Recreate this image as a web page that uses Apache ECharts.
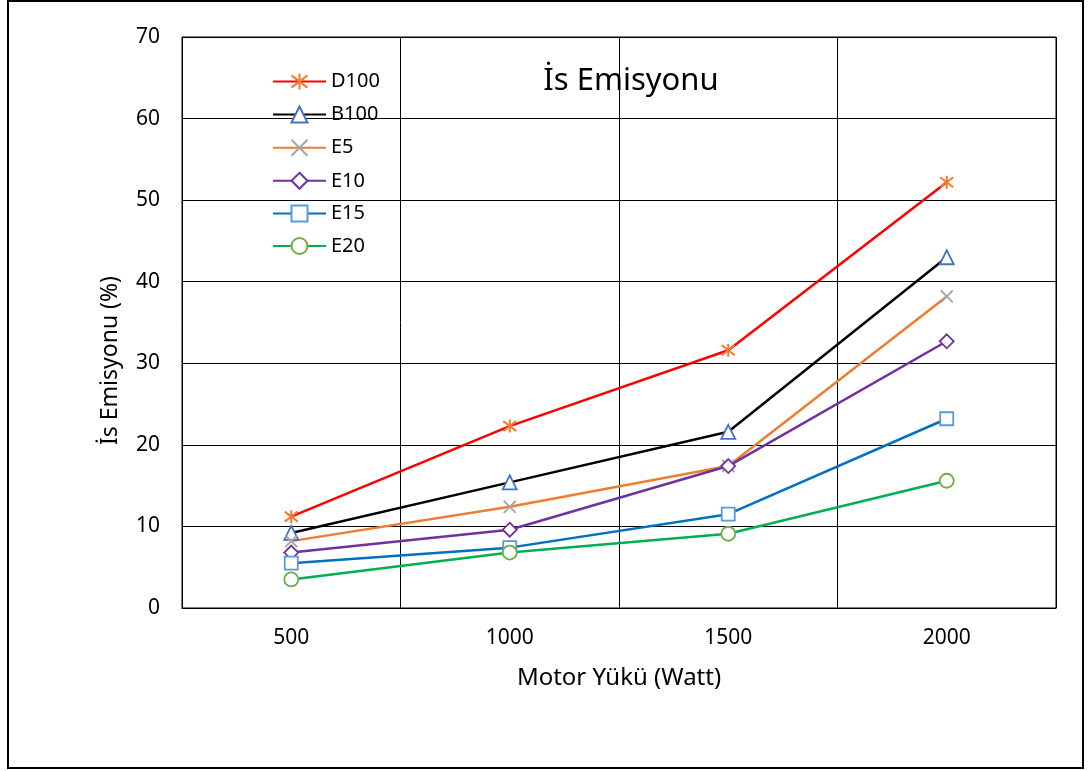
<!DOCTYPE html>
<html>
<head>
<meta charset="utf-8">
<script src="https://cdn.jsdelivr.net/npm/echarts@6/dist/echarts.min.js"></script>
<style>
html,body{margin:0;padding:0;background:#fff;}
#chart{width:1088px;height:771px;}
</style>
</head>
<body>
<div id="chart"></div>
<script>
// Motor load categories (Watt)
const loads = ['500', '1000', '1500', '2000'];
// Smoke emission (%) per fuel blend
const d100 = [11.2, 22.3, 31.6, 52.2];
const b100 = [9.2, 15.4, 21.6, 43.0];
const e5 = [8.2, 12.4, 17.4, 38.2];
const e10 = [6.8, 9.6, 17.4, 32.7];
const e15 = [5.5, 7.4, 11.5, 23.2];
const e20 = [3.5, 6.8, 9.1, 15.6];
const yTicks = [0, 10, 20, 30, 40, 50, 60, 70];

const FONT = 'Noto Sans';
const XMARK = 'path://M0,0L10,10M10,0L0,10';
const STAR = 'path://M0,0L10,10M10,0L0,10M5,-1.5L5,11.5';

function mk(name, data, lineColor, markColor, symbol, size, hollowCross) {
  return {
    name: name,
    type: 'line',
    data: data,
    symbol: symbol,
    symbolSize: size,
    showAllSymbol: true,
    lineStyle: { color: lineColor, width: 2.5 },
    itemStyle: hollowCross
      ? { color: 'none', borderColor: markColor, borderWidth: 2 }
      : { color: '#fff', borderColor: markColor, borderWidth: 1.8 },
    z: 3
  };
}

const series = [
  mk('D100', d100, '#FF0000', '#ED7D31', STAR, 13, true),
  mk('B100', b100, '#000000', '#4472C4', 'triangle', 14),
  mk('E5', e5, '#ED7D31', '#A5A5A5', XMARK, 12, true),
  mk('E10', e10, '#7030A0', '#7030A0', 'diamond', 14),
  mk('E15', e15, '#0070C0', '#5B9BD5', 'rect', 13),
  mk('E20', e20, '#00B050', '#70AD47', 'circle', 14)
];

const chart = echarts.init(document.getElementById('chart'));
chart.setOption({
  animation: false,
  backgroundColor: '#fff',
  textStyle: { fontFamily: FONT },
  title: {
    text: 'İs Emisyonu',
    left: 626,
    top: 61,
    textAlign: 'center',
    textStyle: { fontFamily: FONT, fontSize: 31, fontWeight: 'normal', color: '#000' }
  },
  legend: {
    orient: 'vertical',
    left: 272,
    top: 71,
    padding: 0,
    itemWidth: 53,
    itemHeight: 20,
    itemGap: 12.6,
    textStyle: { fontFamily: FONT, fontSize: 20, lineHeight: 20, color: '#000', padding: [0, 0, 0, 0] },
    data: series.map(s => s.name)
  },
  grid: { left: 182, top: 37, width: 874, height: 571, containLabel: false,
          show: true, borderColor: '#000', borderWidth: 1 },
  xAxis: {
    type: 'category',
    data: loads,
    boundaryGap: true,
    name: 'Motor Yükü (Watt)',
    nameLocation: 'middle',
    nameGap: 58,
    nameTextStyle: { fontFamily: FONT, fontSize: 24, color: '#000' },
    axisLine: { lineStyle: { color: '#000', width: 1 } },
    axisTick: { show: false },
    axisLabel: { fontFamily: FONT, fontSize: 21, color: '#000', margin: 20 },
    splitLine: { show: true, lineStyle: { color: '#000', width: 1 } }
  },
  yAxis: {
    type: 'value',
    min: yTicks[0],
    max: yTicks[yTicks.length - 1],
    interval: 10,
    name: 'İs Emisyonu (%)',
    nameLocation: 'middle',
    nameGap: 60,
    nameTextStyle: { fontFamily: FONT, fontSize: 23, color: '#000', padding: [0, 76, 0, 0] },
    axisLine: { show: true, lineStyle: { color: '#000', width: 1 } },
    axisTick: { show: false },
    axisLabel: { fontFamily: FONT, fontSize: 21, color: '#000', margin: 22 },
    splitLine: { show: true, lineStyle: { color: '#000', width: 1 } }
  },
  graphic: [{
    type: 'rect',
    shape: { x: 8, y: 1, width: 1075, height: 767 },
    style: { fill: 'none', stroke: '#000', lineWidth: 2 },
    silent: true
  }],
  series: series
});
</script>
</body>
</html>
